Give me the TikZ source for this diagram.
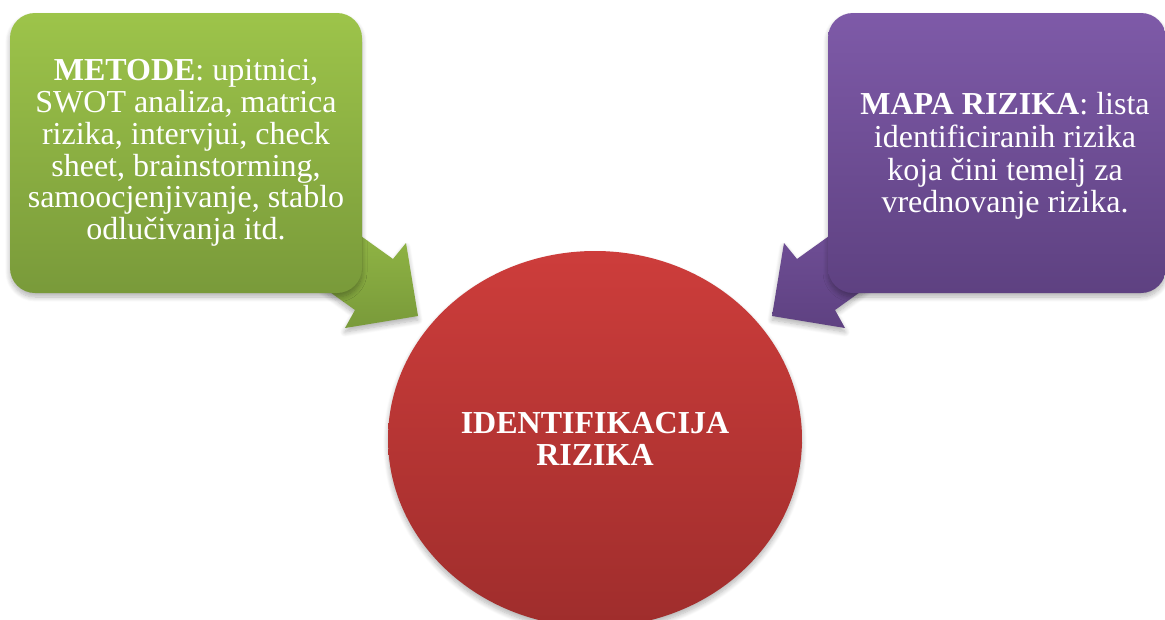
\documentclass[tikz,border=0pt]{standalone}
\usepackage{fontspec}
\setmainfont{Liberation Serif}
\usepackage{tikz}
\usepackage{xcolor}
\usetikzlibrary{shapes.geometric, shadows.blur, positioning, calc}
\definecolor{cGreenTop}{RGB}{157,196,74}
\definecolor{cGreenBot}{RGB}{121,154,58}
\definecolor{cPurpTop}{RGB}{126,90,168}
\definecolor{cPurpBot}{RGB}{94,65,129}
\definecolor{cRedTop}{RGB}{205,61,59}
\definecolor{cRedBot}{RGB}{159,45,44}
\tikzset{
	softshadow/.style={blur shadow={shadow blur steps=8, shadow xshift=0pt, shadow yshift=-4pt, shadow opacity=30, shadow blur radius=5pt}},
	infobox/.style={rectangle, rounded corners=25pt, minimum width=352pt, minimum height=280pt, align=center, text=white, inner sep=0pt, softshadow,
		font=\fontsize{32}{31.7}\selectfont},
	core/.style={ellipse, minimum width=414pt, minimum height=376pt, align=center, text=white, inner sep=0pt, softshadow,
		font=\fontsize{32}{31.5}\selectfont\bfseries, top color=cRedTop, bottom color=cRedBot},
	blockarrow/.style={softshadow},
}

\begin{document}
\begin{tikzpicture}[x=1pt, y=-1pt]
	\useasboundingbox (0,0) rectangle (1165,619);
	% block arrows (drawn first, shafts start under the boxes)
	\coordinate (ga1) at (312,201);
	\coordinate (gn1) at (393,259);
	\coordinate (gb1) at (406,243);
	\coordinate (gtip) at (418,316);
	\coordinate (gb2) at (345,328);
	\coordinate (gn2) at (355,310);
	\coordinate (ga2) at (274,252);
	\path[blockarrow, top color=cGreenTop!85!cGreenBot, bottom color=cGreenBot]
		(ga1) -- (gn1) -- (gb1) -- (gtip) -- (gb2) -- (gn2) -- (ga2) -- cycle;
	\coordinate (pa1) at (878,201);
	\coordinate (pn1) at (797,259);
	\coordinate (pb1) at (784,243);
	\coordinate (ptip) at (772,316);
	\coordinate (pb2) at (845,328);
	\coordinate (pn2) at (835,310);
	\coordinate (pa2) at (916,252);
	\path[blockarrow, top color=cPurpTop!70!cPurpBot, bottom color=cPurpBot]
		(pa1) -- (pn1) -- (pb1) -- (ptip) -- (pb2) -- (pn2) -- (pa2) -- cycle;

	\node[infobox, top color=cGreenTop, bottom color=cGreenBot] (metode) at (186,153)
		{\textbf{METODE}: upitnici,\\ SWOT analiza, matrica\\ rizika, intervjui, check\\ sheet, brainstorming,\\ samoocjenjivanje, stablo\\ odlučivanja itd.};
	\node[infobox, minimum width=338pt, top color=cPurpTop, bottom color=cPurpBot] (mapa) at (997,153) {};
	\node[text=white, align=center, font=\fontsize{32}{32.7}\selectfont] (mapatxt) at (1005,156)
		{\textbf{MAPA RIZIKA}: lista\\ identificiranih rizika\\ koja čini temelj za\\ vrednovanje rizika.};

	\node[core] (ident) at (595,439) {IDENTIFIKACIJA\\ RIZIKA};
\end{tikzpicture}
\end{document}
